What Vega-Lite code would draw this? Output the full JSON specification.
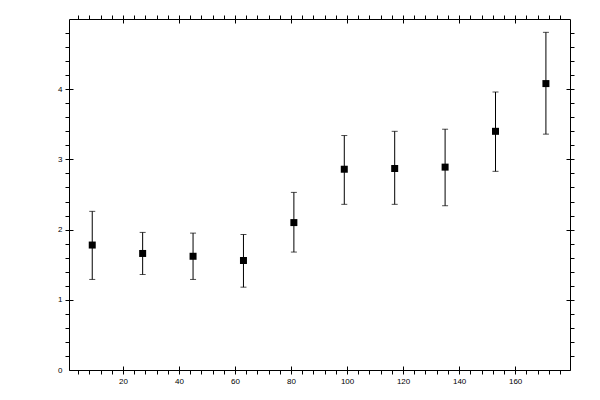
{
  "$schema": "https://vega.github.io/schema/vega-lite/v6.json",
  "description": "Mean value per bin with error bars",
  "autosize": "none",
  "padding": {"left": 69, "top": 19, "right": 30, "bottom": 30},
  "width": 501,
  "height": 351,
  "data": {
    "values": [
      {"x": 9, "y": 1.78, "lo": 1.29, "hi": 2.26},
      {"x": 27, "y": 1.66, "lo": 1.36, "hi": 1.96},
      {"x": 45, "y": 1.62, "lo": 1.29, "hi": 1.95},
      {"x": 63, "y": 1.56, "lo": 1.18, "hi": 1.93},
      {"x": 81, "y": 2.1, "lo": 1.68, "hi": 2.53},
      {"x": 99, "y": 2.86, "lo": 2.36, "hi": 3.34},
      {"x": 117, "y": 2.87, "lo": 2.36, "hi": 3.4},
      {"x": 135, "y": 2.89, "lo": 2.34, "hi": 3.43},
      {"x": 153, "y": 3.4, "lo": 2.83, "hi": 3.96},
      {"x": 171, "y": 4.08, "lo": 3.36, "hi": 4.81}
    ]
  },
  "resolve": {"axis": {"x": "independent", "y": "independent"}},
  "layer": [
    {
      "mark": {"type": "rule", "color": "black", "strokeWidth": 1},
      "encoding": {
        "x": {
          "field": "x", "type": "quantitative", "title": null,
          "scale": {"domain": [0.7, 179.6], "nice": false, "zero": false},
          "axis": {
            "orient": "bottom",
            "values": [4, 8, 12, 16, 20, 24, 28, 32, 36, 40, 44, 48, 52, 56, 60, 64, 68, 72, 76, 80, 84, 88, 92, 96, 100, 104, 108, 112, 116, 120, 124, 128, 132, 136, 140, 144, 148, 152, 156, 160, 164, 168, 172, 176],
            "tickSize": 4,
            "labelExpr": "datum.value % 20 === 0 ? datum.label : ''"
          }
        },
        "y": {
          "field": "lo", "type": "quantitative", "title": null,
          "scale": {"domain": [0, 5], "nice": false},
          "axis": {
            "orient": "left",
            "values": [0, 0.2, 0.4, 0.6, 0.8, 1, 1.2, 1.4, 1.6, 1.8, 2, 2.2, 2.4, 2.6, 2.8, 3, 3.2, 3.4, 3.6, 3.8, 4, 4.2, 4.4, 4.6, 4.8],
            "tickSize": 4,
            "tickOpacity": {"condition": {"test": "datum.value === 0", "value": 0}, "value": 1},
            "labelExpr": "datum.value % 1 === 0 ? format(datum.value, 'd') : ''"
          }
        },
        "y2": {"field": "hi"}
      }
    },
    {
      "mark": {"type": "tick", "orient": "horizontal", "color": "black", "size": 6, "thickness": 1},
      "encoding": {
        "x": {
          "field": "x", "type": "quantitative", "title": null,
          "scale": {"domain": [0.7, 179.6], "nice": false, "zero": false},
          "axis": {"orient": "bottom", "values": [20, 40, 60, 80, 100, 120, 140, 160], "tickSize": -4, "labels": false, "domain": false}
        },
        "y": {
          "field": "hi", "type": "quantitative", "title": null,
          "scale": {"domain": [0, 5], "nice": false},
          "axis": {"orient": "left", "values": [0, 1, 2, 3, 4], "tickSize": -4, "labels": false, "domain": false}
        }
      }
    },
    {
      "mark": {"type": "tick", "orient": "horizontal", "color": "black", "size": 6, "thickness": 1},
      "encoding": {
        "x": {
          "field": "x", "type": "quantitative", "title": null,
          "scale": {"domain": [0.7, 179.6], "nice": false, "zero": false},
          "axis": {
            "orient": "top",
            "values": [4, 8, 12, 16, 20, 24, 28, 32, 36, 40, 44, 48, 52, 56, 60, 64, 68, 72, 76, 80, 84, 88, 92, 96, 100, 104, 108, 112, 116, 120, 124, 128, 132, 136, 140, 144, 148, 152, 156, 160, 164, 168, 172, 176],
            "tickSize": 4, "labels": false
          }
        },
        "y": {
          "field": "lo", "type": "quantitative", "title": null,
          "scale": {"domain": [0, 5], "nice": false},
          "axis": {
            "orient": "right",
            "values": [0.2, 0.4, 0.6, 0.8, 1, 1.2, 1.4, 1.6, 1.8, 2, 2.2, 2.4, 2.6, 2.8, 3, 3.2, 3.4, 3.6, 3.8, 4, 4.2, 4.4, 4.6, 4.8],
            "tickSize": 4, "labels": false
          }
        }
      }
    },
    {
      "mark": {"type": "point", "shape": "square", "filled": true, "color": "black", "size": 49, "opacity": 1},
      "encoding": {
        "x": {
          "field": "x", "type": "quantitative", "title": null,
          "scale": {"domain": [0.7, 179.6], "nice": false, "zero": false},
          "axis": {"orient": "top", "values": [20, 40, 60, 80, 100, 120, 140, 160], "tickSize": -4, "labels": false, "domain": false}
        },
        "y": {
          "field": "y", "type": "quantitative", "title": null,
          "scale": {"domain": [0, 5], "nice": false},
          "axis": {"orient": "right", "values": [0, 1, 2, 3, 4], "tickSize": -4, "labels": false, "domain": false}
        }
      }
    }
  ],
  "config": {
    "view": {"stroke": null},
    "axis": {
      "grid": false,
      "domainColor": "black",
      "domainWidth": 1,
      "tickColor": "black",
      "tickWidth": 1,
      "labelColor": "black",
      "labelFont": "Liberation Sans",
      "labelFontSize": 8,
      "labelPadding": 3,
      "labelFlush": false,
      "labelOverlap": false,
      "labelBound": false
    }
  }
}
